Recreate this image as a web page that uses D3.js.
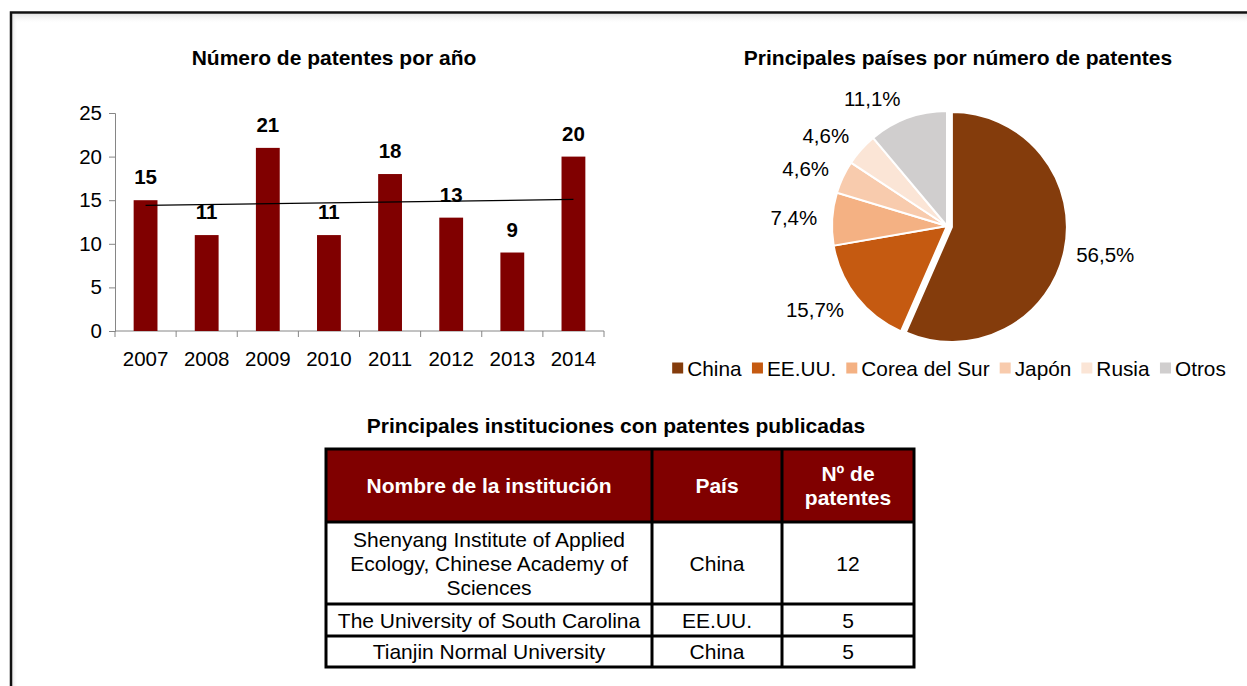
<!DOCTYPE html>
<html>
<head>
<meta charset="utf-8">
<script src="https://cdn.jsdelivr.net/npm/d3@7"></script>
<style>
  html, body { margin: 0; padding: 0; background: #fff; }
  svg { display: block; font-family: "Liberation Sans", Arial, sans-serif; }
</style>
</head>
<body>
<svg id="root" width="1247" height="686"></svg>
<script>
// bar chart data
const years = ["2007", "2008", "2009", "2010", "2011", "2012", "2013", "2014"];
const patentsPerYear = [15, 11, 21, 11, 18, 13, 9, 20];
const yTicks = [0, 5, 10, 15, 20, 25];

// pie data
const countries = ["China", "EE.UU.", "Corea del Sur", "Japón", "Rusia", "Otros"];
const countryShare = [56.5, 15.7, 7.4, 4.6, 4.6, 11.1];
const countryColors = ["#843c0c", "#c55a11", "#f4b183", "#f8cbad", "#fbe5d6", "#d0cece"];

// table data
const tableHeaders = ["Nombre de la institución", "País", "Nº de\npatentes"];
const institutions = [
    "Shenyang Institute of Applied\nEcology, Chinese Academy of\nSciences",
    "The University of South Carolina",
    "Tianjin Normal University",
];
const institutionCountries = ["China", "EE.UU.", "China"];
const institutionPatents = [12, 5, 5];

const svg = d3.select("#root");

// frame with a soft inner shadow
const defs = svg.append("defs");
const gTop = defs.append("linearGradient").attr("id", "shTop").attr("x1", 0).attr("y1", 0).attr("x2", 0).attr("y2", 1);
gTop.append("stop").attr("offset", 0).attr("stop-color", "#e4e4e4");
gTop.append("stop").attr("offset", 1).attr("stop-color", "#fff").attr("stop-opacity", 0);
const gLeft = defs.append("linearGradient").attr("id", "shLeft").attr("x1", 0).attr("y1", 0).attr("x2", 1).attr("y2", 0);
gLeft.append("stop").attr("offset", 0).attr("stop-color", "#e4e4e4");
gLeft.append("stop").attr("offset", 1).attr("stop-color", "#fff").attr("stop-opacity", 0);
svg.append("rect").attr("x", 12).attr("y", 14).attr("width", 1235).attr("height", 10).attr("fill", "url(#shTop)");
svg.append("rect").attr("x", 12).attr("y", 14).attr("width", 6).attr("height", 672).attr("fill", "url(#shLeft)");
svg.append("path")
    .attr("d", "M11,690 V12.5 H1250")
    .attr("fill", "none")
    .attr("stroke", "#111")
    .attr("stroke-width", 2.5);

// ---------- bar chart ----------
const bar = { left: 115, right: 604, top: 113, bottom: 331 };

const x = d3.scaleBand()
    .domain(years)
    .range([bar.left, bar.right])
    .paddingInner(0.61)
    .paddingOuter(0.305);
const y = d3.scaleLinear().domain([0, 25]).range([bar.bottom, bar.top]);

svg.append("text")
    .attr("x", 334).attr("y", 65)
    .attr("text-anchor", "middle")
    .style("font-size", "21px").style("font-weight", "bold")
    .text("Número de patentes por año");

const yAxis = d3.axisLeft(y).tickValues(yTicks).tickSize(6).tickPadding(7);
svg.append("g")
    .attr("transform", `translate(${bar.left},0)`)
    .call(yAxis)
    .call((g) => g.selectAll("path, line").attr("stroke", "#868686"))
    .call((g) => g.selectAll("text").style("font-size", "20.5px").attr("fill", "#000").attr("font-family", null));

const xAxis = d3.axisBottom(x).tickSize(0).tickPadding(20);
svg.append("g")
    .attr("transform", `translate(0,${bar.bottom})`)
    .call(xAxis)
    .call((g) => g.select(".domain").attr("stroke", "#868686").attr("d", `M${bar.left},0H${bar.right}`))
    .call((g) => g.selectAll("text").style("font-size", "20.5px").attr("fill", "#000").attr("font-family", null));

// boundary ticks between categories
const gap = (x.step() - x.bandwidth()) / 2;
const bounds = years.map((d) => x(d) - gap).concat([x(years[years.length - 1]) + x.bandwidth() + gap]);
svg.append("g")
    .selectAll("line")
    .data(bounds)
    .join("line")
    .attr("x1", (d) => d).attr("x2", (d) => d)
    .attr("y1", bar.bottom).attr("y2", bar.bottom + 6)
    .attr("stroke", "#868686");

svg.append("g")
    .selectAll("rect")
    .data(patentsPerYear)
    .join("rect")
    .attr("x", (d, i) => x(years[i]))
    .attr("y", (d) => y(d))
    .attr("width", x.bandwidth())
    .attr("height", (d) => y(0) - y(d))
    .attr("fill", "#800000");

// linear trend line
const n = patentsPerYear.length;
const mx = d3.mean(d3.range(n));
const my = d3.mean(patentsPerYear);
const slope = d3.sum(patentsPerYear, (v, i) => (i - mx) * (v - my)) / d3.sum(d3.range(n), (i) => (i - mx) ** 2);
const trendAt = (i) => my + slope * (i - mx);
svg.append("line")
    .attr("x1", x(years[0]) + x.bandwidth() / 2)
    .attr("y1", y(trendAt(0)))
    .attr("x2", x(years[n - 1]) + x.bandwidth() / 2)
    .attr("y2", y(trendAt(n - 1)))
    .attr("stroke", "#000")
    .attr("stroke-width", 1.3);

svg.append("g")
    .selectAll("text")
    .data(patentsPerYear)
    .join("text")
    .attr("x", (d, i) => x(years[i]) + x.bandwidth() / 2)
    .attr("y", (d) => y(d) - 16)
    .attr("text-anchor", "middle")
    .style("font-size", "20.5px").style("font-weight", "bold")
    .text((d) => d);

// ---------- pie chart ----------
const cx = 947, cy = 226, radius = 115;

svg.append("text")
    .attr("x", 958).attr("y", 65)
    .attr("text-anchor", "middle")
    .style("font-size", "21px").style("font-weight", "bold")
    .text("Principales países por número de patentes");

const pie = d3.pie().sort(null)(countryShare);
const arc = d3.arc().innerRadius(0).outerRadius(radius);
const labelArc = d3.arc().innerRadius(radius + 12).outerRadius(radius + 12);
const midAngle = (d) => (d.startAngle + d.endAngle) / 2;
const explode = (d, i) => {
    if (i !== 0) return [0, 0];
    const a = midAngle(d);
    return [Math.sin(a) * 5, -Math.cos(a) * 5];
};

const pieG = svg.append("g").attr("transform", `translate(${cx},${cy})`);
pieG.selectAll("path")
    .data(pie)
    .join("path")
    .attr("d", arc)
    .attr("transform", (d, i) => `translate(${explode(d, i)})`)
    .attr("fill", (d, i) => countryColors[i])
    .attr("stroke", "#fff")
    .attr("stroke-width", 2);

// labels sit just outside the rim, pushed away from the pie
pieG.selectAll("text")
    .data(pie)
    .join("text")
    .attr("transform", (d, i) => {
        const c = labelArc.centroid(d);
        const e = explode(d, i);
        const a = midAngle(d);
        const side = Math.sin(a) < 0 ? -3 : 0;
        return `translate(${c[0] + e[0] + side},${c[1] + e[1] - Math.cos(a) * 9})`;
    })
    .attr("text-anchor", (d) => (Math.sin(midAngle(d)) < 0 ? "end" : "start"))
    .attr("dy", "0.36em")
    .style("font-size", "20.5px")
    .text((d) => d3.format(".1f")(d.data).replace(".", ",") + "%");

// legend
const legend = svg.append("g").attr("transform", "translate(0,368)");
const items = legend.selectAll("g").data(countries).join("g");
items.append("rect")
    .attr("width", 11).attr("height", 11)
    .attr("y", -5.5)
    .attr("fill", (d, i) => countryColors[i]);
items.append("text")
    .attr("x", 15)
    .attr("dy", "0.36em")
    .style("font-size", "20.8px")
    .text((d) => d);
let lx = 0;
const offsets = [];
items.each(function () {
    offsets.push(lx);
    lx += this.getBBox().width + 10;
});
const legendStart = 949 - (lx - 10) / 2;
items.attr("transform", (d, i) => `translate(${legendStart + offsets[i]},0)`);

// ---------- table ----------
svg.append("text")
    .attr("x", 616).attr("y", 433)
    .attr("text-anchor", "middle")
    .style("font-size", "21px").style("font-weight", "bold")
    .text("Principales instituciones con patentes publicadas");

const colEdges = [326, 652, 782, 914];
const rowEdges = [449, 522, 604, 636, 667];
const lineH = 24;

svg.append("rect")
    .attr("x", colEdges[0] - 1.5).attr("y", rowEdges[0] - 1.5)
    .attr("width", colEdges[3] - colEdges[0] + 3)
    .attr("height", rowEdges[4] - rowEdges[0] + 3)
    .attr("fill", "#000");

const rows = [tableHeaders].concat(institutions.map((name, i) => [name, institutionCountries[i], String(institutionPatents[i])]));
const cells = [];
rows.forEach((row, r) => row.forEach((txt, c) => cells.push({ r, c, txt })));

const cellG = svg.append("g").selectAll("g").data(cells).join("g");
cellG.append("rect")
    .attr("x", (d) => colEdges[d.c] + 1.5)
    .attr("y", (d) => rowEdges[d.r] + 1.5)
    .attr("width", (d) => colEdges[d.c + 1] - colEdges[d.c] - 3)
    .attr("height", (d) => rowEdges[d.r + 1] - rowEdges[d.r] - 3)
    .attr("fill", (d) => (d.r === 0 ? "#800000" : "#fff"));
cellG.append("text")
    .attr("text-anchor", "middle")
    .attr("fill", (d) => (d.r === 0 ? "#fff" : "#000"))
    .style("font-size", "21px")
    .style("font-weight", (d) => (d.r === 0 ? "bold" : "normal"))
    .each(function (d) {
        const lines = d.txt.split("\n");
        const mid = (rowEdges[d.r] + rowEdges[d.r + 1]) / 2;
        const cxCell = (colEdges[d.c] + colEdges[d.c + 1]) / 2;
        d3.select(this).selectAll("tspan")
            .data(lines)
            .join("tspan")
            .attr("x", cxCell)
            .attr("y", (l, k) => mid + (k - (lines.length - 1) / 2) * lineH)
            .attr("dy", "0.36em")
            .text((l) => l);
    });
</script>
</body>
</html>
